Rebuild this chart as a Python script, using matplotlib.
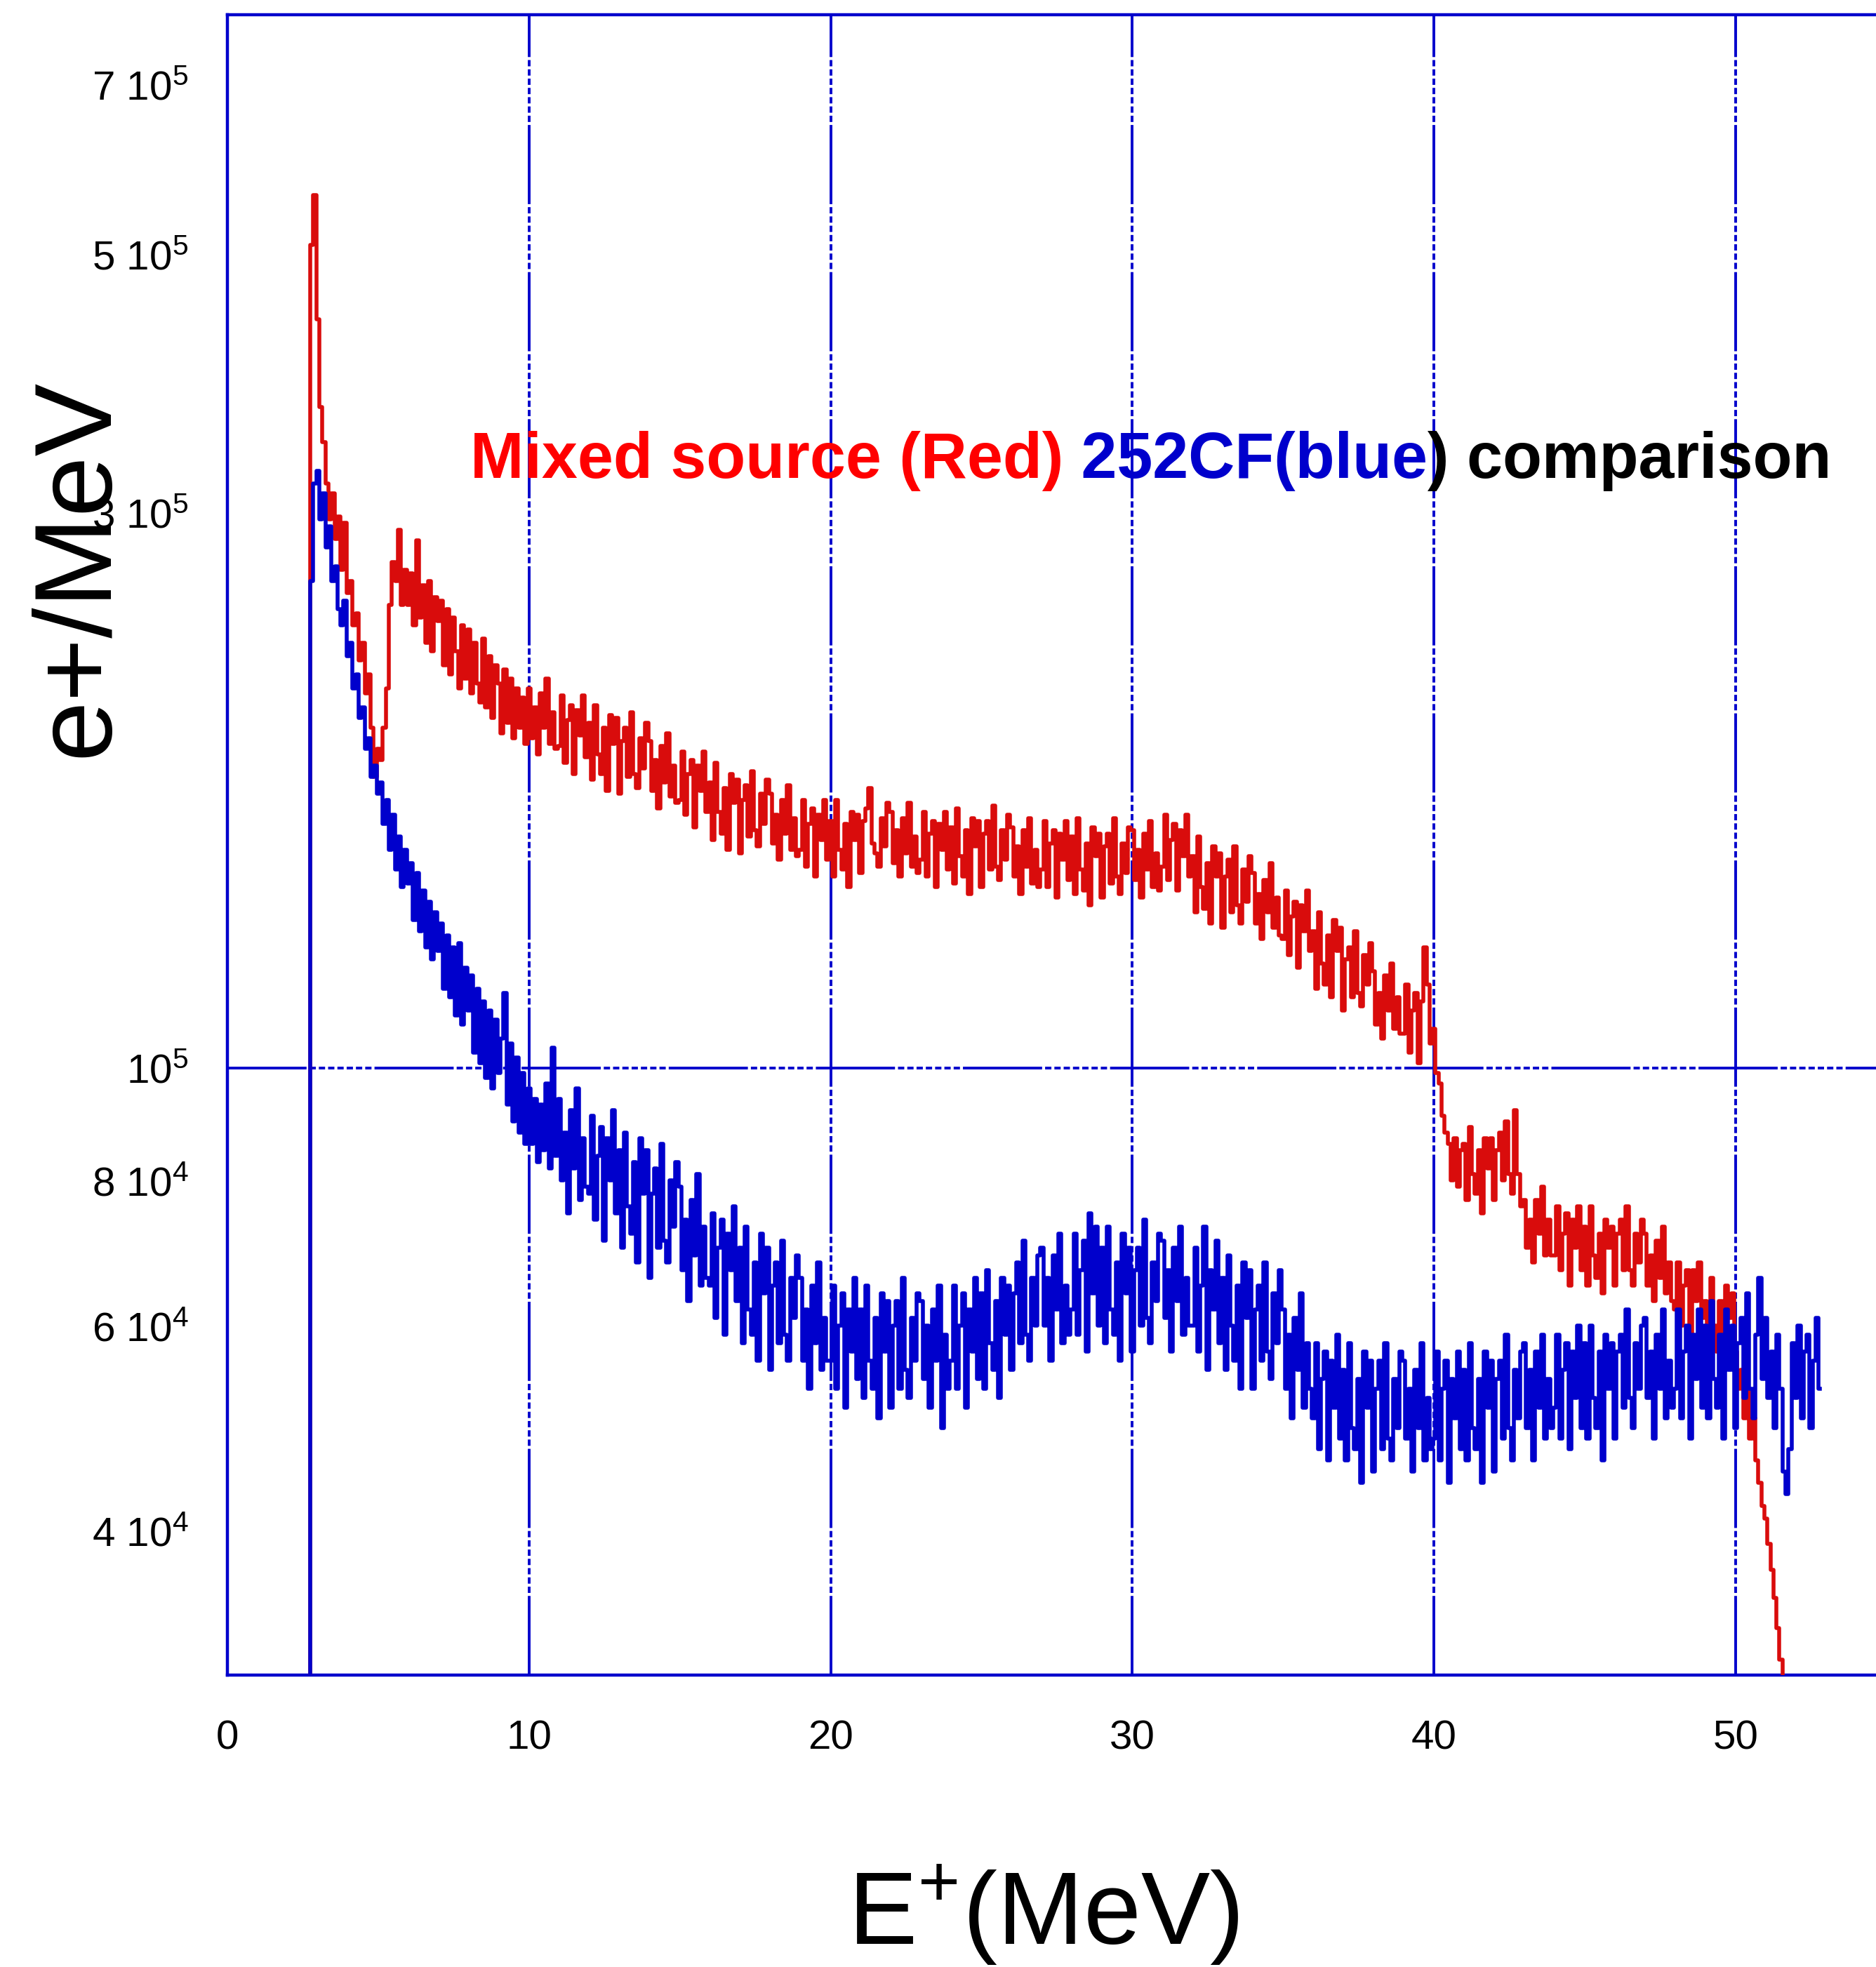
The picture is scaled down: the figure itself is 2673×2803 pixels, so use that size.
import numpy as np
import matplotlib
matplotlib.use("Agg")
import matplotlib.pyplot as plt

plt.rcParams['font.family'] = ['Liberation Sans', 'DejaVu Sans']
plt.rcParams['mathtext.fontset'] = 'custom'
plt.rcParams['mathtext.rm'] = 'Liberation Sans'
plt.rcParams['mathtext.it'] = 'Liberation Sans:italic'
plt.rcParams['mathtext.bf'] = 'Liberation Sans:bold'

# histogram bins: 0.1 MeV wide, first bin centred at 2.7 MeV
E_START = 2.7
E_STEP = 0.1

# e+/MeV in units of 1e3 (one row per MeV)
red_k = [
    20, 510, 563,                                          # 2.7-2.9
    440, 370, 345, 318, 296, 312, 285, 298, 268, 294,      # 3
    256, 262, 240, 246, 224, 232, 210, 218, 196, 178,      # 4
    188, 184, 196, 212, 250, 272, 262, 290, 250, 268,      # 5
    250, 266, 240, 284, 244, 260, 232, 262, 228, 254,      # 6
    242, 252, 222, 248, 218, 244, 228, 212, 240, 216,      # 7
    238, 210, 232, 214, 206, 234, 204, 226, 200, 222,      # 8
    214, 194, 220, 198, 216, 192, 212, 196, 208, 190,      # 9
    212, 192, 204, 186, 210, 196, 216, 190, 202, 188,      # 10
    189, 209, 183, 199, 205, 179, 203, 193, 209, 185,      # 11
    198, 177, 205, 186, 179, 196, 173, 201, 190, 200,      # 12
    172, 191, 196, 178, 202, 179, 174, 192, 181, 198,      # 13
    191, 173, 184, 167, 189, 176, 194, 171, 182, 169,      # 14
    170, 187, 165, 179, 184, 161, 182, 173, 187, 166,      # 15
    176, 157, 183, 166, 159, 174, 154, 179, 169, 177,      # 16
    153, 170, 175, 158, 180, 160, 155, 172, 162, 177,      # 17
    172, 156, 165, 151, 170, 159, 175, 154, 164, 152,      # 18
    154, 170, 149, 162, 167, 146, 165, 157, 170, 151,      # 19
    163, 146, 170, 154, 148, 162, 143, 166, 157, 165,      # 20
    147, 163, 167, 174, 156, 153, 149, 164, 155, 169,      # 21
    166, 150, 160, 146, 164, 153, 169, 149, 158, 147,      # 22
    151, 166, 146, 159, 163, 143, 162, 154, 166, 148,      # 23
    161, 144, 167, 152, 146, 160, 141, 164, 155, 163,      # 24
    143, 159, 163, 148, 168, 149, 145, 160, 151, 165,      # 25
    161, 146, 155, 141, 160, 149, 164, 144, 154, 143,      # 26
    148, 163, 143, 156, 160, 140, 159, 151, 163, 145,      # 27
    158, 141, 164, 148, 142, 156, 138, 161, 152, 159,      # 28
    140, 155, 159, 144, 164, 146, 141, 156, 147, 161,      # 29
    160, 145, 154, 140, 159, 148, 163, 143, 153, 142,      # 30
    149, 165, 145, 157, 162, 142, 160, 152, 165, 146,      # 31
    152, 136, 158, 143, 137, 150, 133, 155, 146, 153,      # 32
    132, 146, 151, 136, 155, 138, 133, 148, 139, 152,      # 33
    147, 133, 141, 129, 145, 136, 150, 132, 140, 130,      # 34
    129, 142, 125, 135, 139, 122, 138, 131, 142, 126,      # 35
    131, 117, 136, 123, 118, 130, 115, 134, 126, 132,      # 36
    112, 124, 127, 115, 131, 116, 113, 125, 118, 128,      # 37
    121, 109, 116, 106, 120, 112, 123, 108, 115, 107,      # 38
    107, 118, 103, 112, 116, 101, 114, 127, 118, 105,      # 39
    108, 99, 97, 91, 88, 86, 80, 87, 79, 85,               # 40
    86, 77, 89, 81, 78, 85, 75, 87, 82, 87,                # 41
    77, 85, 88, 80, 90, 81, 78, 92, 81, 76,                # 42
    77, 70, 74, 68, 77, 72, 79, 69, 74, 69,                # 43
    69, 76, 67, 72, 75, 65, 74, 70, 76, 67,                # 44
    73, 65, 76, 69, 66, 72, 64, 74, 70, 73,                # 45
    65, 72, 74, 67, 76, 67, 65, 72, 68, 74,                # 46
    72, 65, 69, 63, 71, 66, 73, 64, 68, 63,                # 47
    62, 68, 60, 65, 67, 59, 67, 63, 68, 61,                # 48
    63, 57, 66, 60, 57, 63, 56, 65, 61, 64,                # 49
    57, 53, 55, 50, 53, 48, 50, 46, 44, 42,                # 50
    41, 39, 37, 35, 33, 31, 28,                            # 51.0-51.6
]

blue_k = [
    20, 262, 318,                                          # 2.7-2.9
    326, 296, 312, 280, 292, 262, 270, 248, 240, 252,      # 3
    226, 232, 212, 218, 200, 204, 188, 192, 178, 182,      # 4
    172, 176, 162, 170, 154, 165, 148, 158, 143, 154,      # 5
    144, 150, 134, 147, 131, 142, 127, 139, 124, 136,      # 6
    126, 133, 117, 130, 115, 127, 111, 128, 109, 122,      # 7
    112, 120, 103, 117, 101, 114, 98, 112, 96, 110,        # 8
    99, 106, 116, 93, 105, 90, 102, 88, 99, 86,            # 9
    96, 86, 94, 83, 93, 85, 97, 82, 104, 84,               # 10
    94, 80, 88, 75, 92, 82, 96, 77, 87, 79,                # 11
    78, 91, 74, 84, 89, 71, 87, 80, 92, 75,                # 12
    85, 70, 88, 76, 72, 83, 68, 87, 78, 85,                # 13
    66, 78, 82, 70, 86, 71, 68, 80, 73, 83,                # 14
    79, 67, 74, 63, 77, 69, 81, 65, 73, 66,                # 15
    65, 75, 61, 70, 74, 59, 72, 67, 76, 63,                # 16
    70, 58, 73, 62, 59, 68, 56, 72, 64, 70,                # 17
    55, 65, 68, 58, 71, 59, 56, 66, 61, 69,                # 18
    66, 56, 62, 53, 65, 58, 68, 55, 61, 56,                # 19
    56, 65, 53, 60, 64, 51, 62, 57, 66, 54,                # 20
    62, 52, 65, 56, 53, 61, 50, 64, 57, 63,                # 21
    51, 60, 63, 53, 66, 55, 52, 61, 56, 64,                # 22
    63, 54, 60, 51, 62, 56, 65, 49, 59, 53,                # 23
    56, 65, 53, 60, 64, 51, 62, 57, 66, 54,                # 24
    64, 53, 67, 58, 55, 63, 52, 66, 59, 65,                # 25
    55, 64, 68, 58, 71, 59, 56, 66, 60, 69,                # 26
    70, 60, 66, 56, 69, 62, 72, 58, 65, 59,                # 27
    62, 72, 59, 67, 71, 57, 75, 64, 73, 60,                # 28
    70, 58, 73, 62, 59, 68, 56, 72, 64, 70,                # 29
    57, 67, 70, 60, 74, 61, 58, 68, 63, 72,                # 30
    71, 61, 67, 57, 70, 63, 73, 59, 66, 60,                # 31
    60, 70, 57, 65, 73, 55, 67, 62, 71, 58,                # 32
    66, 55, 69, 60, 56, 65, 53, 68, 61, 67,                # 33
    53, 62, 65, 56, 68, 57, 54, 64, 58, 67,                # 34
    62, 53, 59, 50, 61, 55, 64, 51, 58, 53,                # 35
    50, 58, 47, 54, 57, 46, 56, 51, 59, 48,                # 36
    55, 46, 58, 49, 47, 54, 44, 57, 51, 56,                # 37
    45, 53, 56, 47, 58, 48, 46, 54, 49, 57,                # 38
    56, 48, 53, 45, 55, 49, 58, 46, 52, 47,                # 39
    48, 57, 46, 53, 56, 44, 54, 50, 57, 47,                # 40
    55, 46, 58, 49, 47, 54, 44, 57, 51, 56,                # 41
    45, 54, 56, 48, 59, 49, 46, 55, 50, 57,                # 42
    58, 49, 55, 46, 57, 51, 59, 48, 54, 49,                # 43
    51, 59, 48, 55, 58, 47, 57, 52, 60, 49,                # 44
    58, 48, 60, 52, 49, 57, 46, 59, 53, 58,                # 45
    48, 57, 59, 51, 62, 52, 49, 58, 53, 60,                # 46
    61, 52, 57, 48, 59, 53, 62, 50, 56, 51,                # 47
    53, 62, 50, 57, 60, 48, 59, 54, 62, 51,                # 48
    60, 50, 63, 54, 51, 59, 48, 62, 55, 60,                # 49
    49, 58, 61, 52, 64, 53, 50, 59, 66, 54,                # 50
    61, 52, 57, 49, 59, 53, 45, 43, 47, 58,                # 51
    52, 60, 50, 57, 59, 49, 56, 61, 53,                    # 52.0-52.8
]

x_ticks = [0, 10, 20, 30, 40, 50]
y_ticks_minor = [4e4, 6e4, 8e4, 3e5, 5e5, 7e5]
y_labels_minor = [r'$\mathregular{4\ 10^{4}}$', r'$\mathregular{6\ 10^{4}}$',
                  r'$\mathregular{8\ 10^{4}}$', r'$\mathregular{3\ 10^{5}}$',
                  r'$\mathregular{5\ 10^{5}}$', r'$\mathregular{7\ 10^{5}}$']

e_red = E_START + E_STEP * np.arange(len(red_k))
e_blue = E_START + E_STEP * np.arange(len(blue_k))
red = np.array(red_k) * 1e3
blue = np.array(blue_k) * 1e3

BLUE = '#0000cc'
RED = '#d90c0c'

fig = plt.figure(figsize=(26.73, 28.03), dpi=100)
ax = fig.add_axes([0.1212, 0.1484, 0.8788, 0.8441])
ax.set_yscale('log')

ax.plot(e_red, red, drawstyle='steps-mid', color=RED, lw=4.0, zorder=3)
ax.plot(e_blue, blue, drawstyle='steps-mid', color=BLUE, lw=4.0, zorder=3)

ax.set_xlim(0, 54.65)
ax.set_ylim(3.006e4, 8.04e5)

ax.set_xticks(x_ticks, labels=[str(t) for t in x_ticks])
ax.set_yticks([1e5], labels=[r'$\mathregular{10^{5}}$'])
ax.set_yticks(y_ticks_minor, labels=y_labels_minor, minor=True)
ax.tick_params(axis='x', length=0, pad=46, labelsize=42)
ax.tick_params(axis='y', which='both', length=0, pad=40, labelsize=42)

# grid: long solid stretch then a run of short dashes
grid_dash = (0, (29.0, 1.1) + (2.3, 1.1) * 7)
ax.grid(True, which='major', color=BLUE, lw=2.8, linestyle=grid_dash, zorder=1)
ax.set_axisbelow(True)

for side in ['left', 'bottom', 'top']:
    ax.spines[side].set_color(BLUE)
    ax.spines[side].set_linewidth(3.2)
ax.spines['right'].set_visible(False)

# multi-coloured caption
t1 = fig.text(0.2507, 0.757, 'Mixed source (Red)', color='#ff0000',
              fontsize=66, fontweight='bold', va='baseline', ha='left')
t2 = ax.annotate(' 252CF(blue', xy=(1, 0), xycoords=t1, va='bottom', ha='left',
                 color=BLUE, fontsize=66, fontweight='bold')
t3 = ax.annotate(') comparison', xy=(1, 0), xycoords=t2, va='bottom', ha='left',
                 color='black', fontsize=66, fontweight='bold')

fig.text(0.0419, 0.7114, 'e+/MeV', rotation=90, fontsize=112,
         ha='center', va='center')
fig.text(0.556, 1 - 2771 / 2803, r'$\mathregular{E^{+}(MeV)}$', fontsize=106,
         ha='center', va='baseline')

fig.savefig('out.png', dpi=100)
